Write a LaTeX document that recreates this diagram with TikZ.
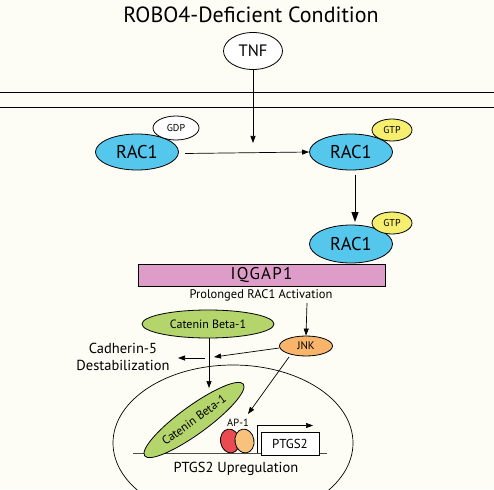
\documentclass[tikz,border=0pt]{standalone}
\usepackage{fontspec}
\setmainfont{PT Sans}
\usetikzlibrary{arrows.meta,shapes.geometric}
\definecolor{bg}{HTML}{FDFDF6}
\definecolor{racblue}{HTML}{55C6EC}
\definecolor{gtpyel}{HTML}{F6EE6E}
\definecolor{iqpink}{HTML}{DE9DC8}
\definecolor{catgreen}{HTML}{B4D46C}
\definecolor{jnkorange}{HTML}{F9B46C}
\definecolor{apred}{HTML}{E94B50}
\definecolor{aporange}{HTML}{F9C27C}
\tikzset{
  x=1pt,y=-1pt,
  ell/.style={ellipse,draw=black,line width=0.8pt,inner sep=0pt},
  arr/.style={-{Triangle[length=7pt,width=5pt]},line width=0.7pt},
  bigarr/.style={-{Triangle[length=10pt,width=7pt]},line width=1pt},
  lbl/.style={inner sep=0pt,align=center},
}
\begin{document}
\begin{tikzpicture}
\fill[bg] (0,0) rectangle (494,489);
\useasboundingbox (0,0) rectangle (494,489);
\begin{scope}
\clip (0,0) rectangle (494,489);
\draw[line width=0.7pt] (233,443) ellipse [x radius=120, y radius=78];
\end{scope}
% title
\node[lbl,font=\fontsize{22}{24}\selectfont] (title) at (251,15) {ROBO4-Deficient Condition};
% membrane
\coordinate (mL1) at (0,92); \coordinate (mR1) at (494,92);
\coordinate (mL2) at (0,107); \coordinate (mR2) at (494,107);
\draw[line width=0.7pt] (mL1) -- (mR1);
\draw[line width=0.7pt] (mL2) -- (mR2);
% TNF
\node[ell,fill=white,minimum width=59pt,minimum height=37pt,font=\fontsize{16.5}{18}\selectfont] (tnf) at (253,51) {TNF};
\coordinate (tnfend) at (253,143);
\draw[arr] (tnf.south) -- (tnfend);
% RAC1 left
\node[ell,fill=racblue,minimum width=83pt,minimum height=36pt,font=\fontsize{18.5}{20}\selectfont] (racL) at (137,152) {RAC1};
\node[ell,fill=white,minimum width=46pt,minimum height=24pt,font=\fontsize{10}{11}\selectfont] (gdp) at (176,128) {GDP};
\node[ell,fill=racblue,minimum width=83pt,minimum height=36pt,font=\fontsize{18.5}{20}\selectfont] (racR) at (351,152) {RAC1};
\node[ell,fill=gtpyel,minimum width=40pt,minimum height=22pt,font=\fontsize{10}{11}\selectfont] (gtp1) at (392,130) {GTP};
\coordinate (hs) at (185,153.5);
\draw[arr] (hs) -- (racR.west);
% down arrow
\coordinate (ds) at (355,175);
\coordinate (de) at (355,222);
\draw[bigarr] (ds) -- (de);
% RAC1 lower
\node[ell,fill=racblue,minimum width=83pt,minimum height=38pt,font=\fontsize{18.5}{20}\selectfont] (racB) at (351,244) {RAC1};
\node[ell,fill=gtpyel,minimum width=40pt,minimum height=22pt,font=\fontsize{10}{11}\selectfont] (gtp2) at (392,223) {GTP};
% IQGAP1
\node[draw=black,line width=0.8pt,fill=iqpink,minimum width=247pt,minimum height=22pt,inner sep=0pt,font=\fontsize{17}{19}\selectfont] (iq) at (261.5,275) {I\kern1.2pt Q\kern1.2pt G\kern1.2pt A\kern1.2pt P\kern1.2pt 1};
\node[lbl,font=\fontsize{12.5}{14}\selectfont] (prol) at (261,295.5) {Prolonged RAC1 Activation};
% JNK
\node[ell,fill=jnkorange,minimum width=53pt,minimum height=20pt,font=\fontsize{11}{13}\selectfont] (jnk) at (306,346) {JNK};
\coordinate (ps) at (307,303);
\draw[arr] (ps) -- (jnk.north);
% Catenin top
\node[ell,fill=catgreen,minimum width=132pt,minimum height=28pt,font=\fontsize{12}{14}\selectfont] (cat1) at (208,324) {Catenin Beta-1};
% Cadherin text
\node[lbl,font=\fontsize{14.5}{17.5}\selectfont] (cad) at (123,357) {Cadherin-5\\Destabilization};
\coordinate (ja) at (214,357);
\draw[arr] (jnk.west) ++(0,2) -- (ja);
\coordinate (ca1) at (205,358);
\coordinate (ca2) at (178,358);
\draw[arr] (ca1) -- (ca2);
% catenin down
\coordinate (cd) at (209,388);
\draw[arr] (cat1.south) ++(1,0) -- (cd);
% DNA
\coordinate (dnaL) at (133,453); \coordinate (dnaR) at (327,453);
\draw[line width=0.8pt,draw=black!70] (dnaL) -- (dnaR);
% catenin in nucleus
\node[ell,fill=catgreen,minimum width=122pt,minimum height=28pt,rotate=36,font=\fontsize{12}{14}\selectfont] (cat2) at (194,420) {Catenin Beta-1};
% AP-1
\node[ell,fill=apred,minimum width=19pt,minimum height=24pt,rotate=10] (apr) at (230,441) {};
\node[ell,fill=aporange,minimum width=19pt,minimum height=24pt,rotate=10] (apo) at (244.5,441) {};
\node[lbl,font=\fontsize{10.5}{12}\selectfont] (ap1) at (238,423) {AP-1};
\coordinate (je) at (248,414);
\coordinate (js) at (289,357);
\draw[arr] (js) -- (je);
% PTGS2 box
\node[draw=black,line width=0.8pt,fill=white,minimum width=58pt,minimum height=23pt,inner sep=0pt,font=\fontsize{13}{15}\selectfont] (ptgs) at (290,443.5) {PTGS2};
\coordinate (t0) at (257,453);
\coordinate (t1) at (257,425.5);
\coordinate (t2) at (313,425.5);
\draw[arr,line width=0.6pt] (t0) -- (t1) -- (t2);
\node[lbl,font=\fontsize{14.5}{16}\selectfont] (up) at (236,469) {PTGS2 Upregulation};
\end{tikzpicture}
\end{document}
